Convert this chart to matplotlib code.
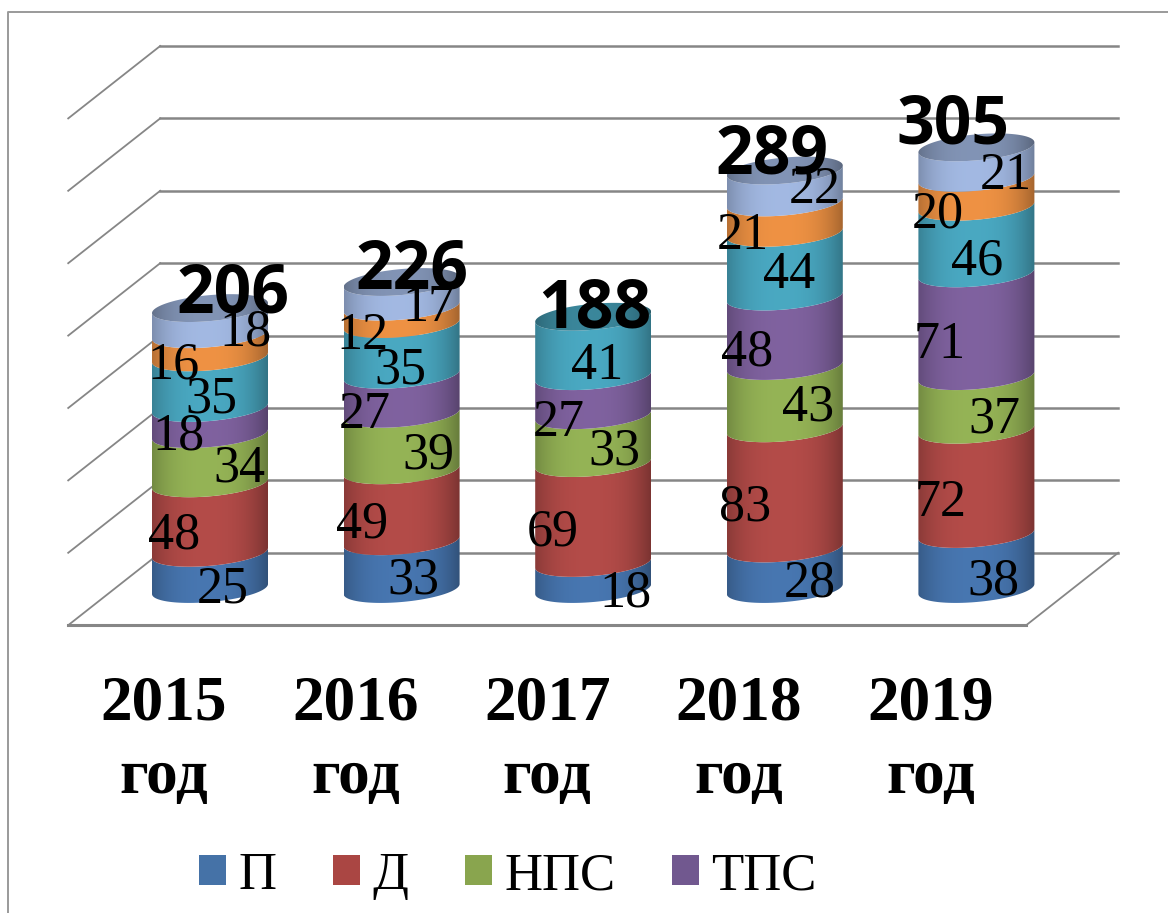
import numpy as np
import matplotlib
matplotlib.use('Agg')
import matplotlib.pyplot as plt
from matplotlib.patches import Polygon, Patch
from matplotlib.colors import to_rgb

years = ['2015', '2016', '2017', '2018', '2019']
year_word = 'год'
totals = [206, 226, 188, 289, 305]

# stacked values, bottom to top
p = [25, 33, 18, 28, 38]
d = [48, 49, 69, 83, 72]
nps = [34, 39, 33, 43, 37]
tps = [18, 27, 27, 48, 71]
s5 = [35, 35, 41, 44, 46]
s6 = [16, 12, 0, 21, 20]
s7 = [18, 17, 0, 22, 21]
stack = [p, d, nps, tps, s5, s6, s7]
colors = ['#4674ad', '#b04a47', '#92b054', '#7d609c', '#48a5be', '#ea8f42', '#9fb5de']
legend_names = ['П', 'Д', 'НПС', 'ТПС']
legend_colors = ['#4572a7', '#aa4643', '#89a54e', '#71588f']

grid_values = [0, 50, 100, 150, 200, 250, 300, 350]

# label offsets from the middle of each segment, in pixels (dx, dy down)
label_dx = [[13, 12, 32, 25, 17], [-36, -40, -40, -40, -36], [29, 27, 21, 23, 18], [-32, -37, -34, -38, -37],
            [1, -1, 4, 4, 1], [-37, -39, 0, -42, -39], [35, 27, 0, 30, 29]]
label_dy = [[32, 28, 31, 28, 33], [30, 32, 33, 32, 34], [23, 26, 25, 23, 30], [28, 34, 40, 34, 33],
            [30, 34, 33, 23, 34], [33, 34, 0, 31, 35], [24, 27, 0, 17, 26]]
total_dx = [23, 10, 2, -13, -23]
total_dy = [4, 6, 11, 3, -4]

W, H = 1168, 913
PX_X = 191.6  # pixels per category
PX_Y = 1.448  # pixels per unit
X0, Y0 = 210, 589  # pixel position of first bar, zero level

rx = 58 / PX_X
ry = 13 / PX_Y
tilt = 5 / PX_Y
depth_x = 0.24
depth_y = 25

plt.rcParams['font.family'] = ['Liberation Serif', 'DejaVu Serif']

fig = plt.figure(figsize=(W / 100, H / 100), dpi=100)
ax = fig.add_axes([0, 0, 1, 1])
xlim = ((0 - X0) / PX_X, (W - X0) / PX_X)
ylim = ((Y0 - H) / PX_Y, Y0 / PX_Y)
ax.axis('off')

# outer chart frame
ax.plot([8 / W, 8 / W, 1], [0, 1 - 12 / H, 1 - 12 / H], transform=ax.transAxes, color='#9a9a9a', lw=1.4)

# back wall, side wall and floor
left, right = -0.5 - depth_x, len(years) - 0.5 + depth_x - 0.48
grid = '#868686'
for g in grid_values:
    ax.plot([left, left + 2 * depth_x], [g - depth_y, g + depth_y], color=grid, lw=1.3, zorder=1)
    ax.plot([left + 2 * depth_x, right + 2 * depth_x], [g + depth_y, g + depth_y], color=grid, lw=1.8, zorder=1)
ax.plot([left, right], [-depth_y, -depth_y], color=grid, lw=2.2, zorder=1)
ax.plot([right, right + 2 * depth_x], [-depth_y, depth_y], color=grid, lw=1.3, zorder=1)


def arc(cx, level):
    t = np.linspace(0, np.pi, 60)
    return cx + rx * np.cos(t), level + tilt * np.cos(t) - ry * np.sin(t)


def shade(color, n=200, amount=1.0):
    u = np.linspace(0, 1, n)
    f = 1.02 - 0.32 * np.abs(u - 0.47) ** 2.6 / 0.53 ** 2.6
    f = f * amount
    return np.clip(np.outer(f, to_rgb(color)), 0, 1)[np.newaxis, :, :]


bottoms = np.zeros(len(years))
for s, (vals, color) in enumerate(zip(stack, colors)):
    for i, v in enumerate(vals):
        if v == 0:
            continue
        lo, hi = bottoms[i], bottoms[i] + v
        xa, ya = arc(i, lo)
        xb, yb = arc(i, hi)
        poly = Polygon(np.column_stack([np.r_[xa, xb[::-1]], np.r_[ya, yb[::-1]]]), closed=True,
                       transform=ax.transData, facecolor='none', edgecolor='none')
        ax.add_patch(poly)
        im = ax.imshow(shade(color), extent=(i - rx, i + rx, lo - 20, hi + 20), aspect='auto', zorder=3,
                       interpolation='bilinear')
        im.set_clip_path(poly)
        ax.annotate(str(v), xy=(i, (lo + hi) / 2), xytext=(label_dx[s][i], -label_dy[s][i]),
                    textcoords='offset pixels', ha='center', va='baseline', fontsize=37.5, color='black', zorder=6)
    bottoms = bottoms + np.array(vals)

# top caps take a darker tone of the last visible segment
for i in range(len(years)):
    top_color = [c for c, vals in zip(colors, stack) if vals[i] > 0][-1]
    t = np.linspace(0, 2 * np.pi, 120)
    xs = i + rx * np.cos(t)
    ys = bottoms[i] + tilt * np.cos(t) + ry * np.sin(t)
    cap = Polygon(np.column_stack([xs, ys]), closed=True, transform=ax.transData, facecolor='none', edgecolor='none')
    ax.add_patch(cap)
    im = ax.imshow(shade(top_color, amount=0.8), extent=(i - rx, i + rx, bottoms[i] - 20, bottoms[i] + 20),
                   aspect='auto', zorder=4, interpolation='bilinear')
    im.set_clip_path(cap)
    ax.annotate(str(totals[i]), xy=(i, bottoms[i]), xytext=(total_dx[i], -total_dy[i]),
                textcoords='offset pixels', ha='center', va='baseline', fontsize=47.5,
                fontweight='bold', family=['Open Sans', 'DejaVu Sans'], color='black', zorder=7)

# category labels under the floor
for i, y in enumerate(years):
    ax.text(i - depth_x, -depth_y - 65, y, ha='center', va='baseline', fontsize=45.5, fontweight='bold')
    ax.text(i - depth_x, -depth_y - 116, year_word, ha='center', va='baseline', fontsize=45.5, fontweight='bold')

ax.set_xlim(xlim)
ax.set_ylim(ylim)

# legend: only these four entries fit, as in the source
handles = [Patch(facecolor=c, edgecolor='none') for c in legend_colors]
fig.legend(handles, legend_names, loc='lower left', bbox_to_anchor=(199 / W, 13 / H), ncol=4, frameon=False,
           fontsize=38, handlelength=0.51, handleheight=0.51, handletextpad=0.23, columnspacing=1.08,
           borderpad=0, labelspacing=0, borderaxespad=0)

fig.savefig('out.png', dpi=100, facecolor='white')
plt.close()
